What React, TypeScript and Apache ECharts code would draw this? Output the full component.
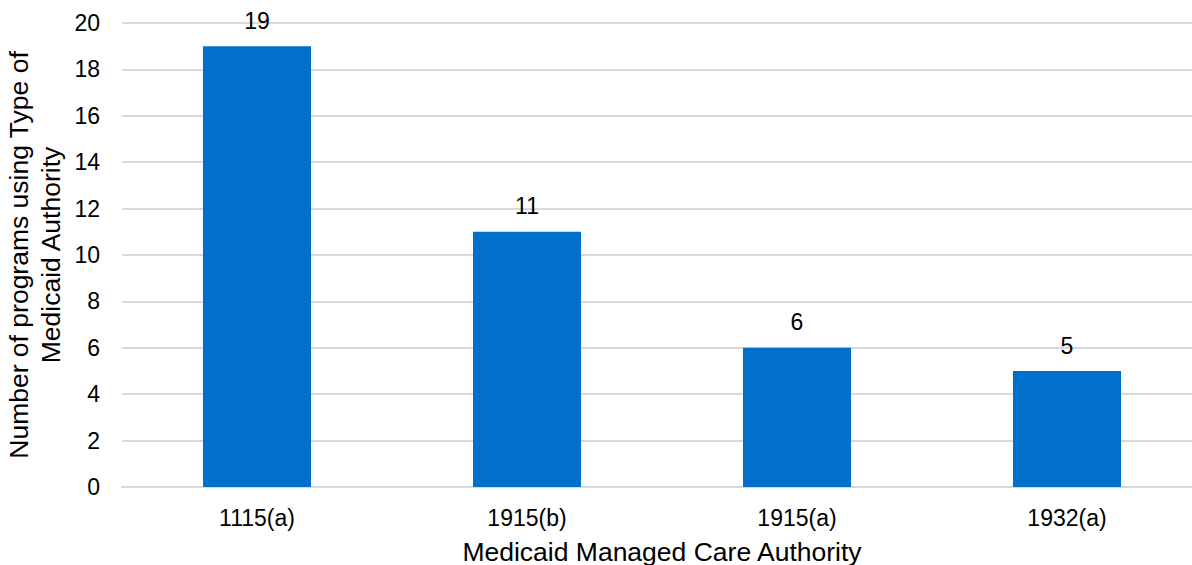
import React, { useEffect, useRef } from "react";
import * as echarts from "echarts";

const categories = ["1115(a)", "1915(b)", "1915(a)", "1932(a)"];
const programCounts = [19, 11, 6, 5];
const yTicks = { min: 0, max: 20, interval: 2 };

export default function App() {
  const ref = useRef<HTMLDivElement>(null);
  useEffect(() => {
    document.body.style.margin = "0";
    const chart = echarts.init(ref.current!, null, { renderer: "svg" });
    const font = "'Liberation Sans', Arial, sans-serif";
    chart.setOption({
      animation: false,
      grid: { left: 122, right: -10, top: 23, bottom: 78, outerBoundsMode: "none", containLabel: false },
      xAxis: {
        type: "category",
        data: categories,
        axisLine: { show: true, lineStyle: { color: "#d9d9d9", width: 2 } },
        axisTick: { show: false },
        axisLabel: { color: "#000", fontSize: 23, fontFamily: font, margin: 19 },
        name: "Medicaid Managed Care Authority",
        nameLocation: "middle",
        nameGap: 51,
        nameMoveOverlap: false,
        nameTextStyle: { color: "#000", fontSize: 26.5, fontFamily: font },
      },
      yAxis: {
        type: "value",
        min: yTicks.min,
        max: yTicks.max,
        interval: yTicks.interval,
        axisLine: { show: false },
        axisTick: { show: false },
        splitLine: { lineStyle: { color: "#d9d9d9", width: 2 } },
        axisLabel: { color: "#000", fontSize: 23, fontFamily: font, margin: 22 },
        name: "Number of programs using Type of\nMedicaid Authority",
        nameLocation: "middle",
        nameGap: 55,
        nameMoveOverlap: false,
        nameTextStyle: { color: "#000", fontSize: 26.5, fontFamily: font, lineHeight: 32 },
      },
      series: [
        {
          type: "bar",
          data: programCounts,
          barWidth: "40%",
          itemStyle: { color: "#0070CC" },
          label: {
            show: true,
            position: "top",
            distance: 14,
            color: "#000",
            fontSize: 23,
            fontFamily: font,
          },
        },
      ],
    });
    return () => chart.dispose();
  }, []);
  return <div ref={ref} style={{ width: 1192, height: 565 }} />;
}
